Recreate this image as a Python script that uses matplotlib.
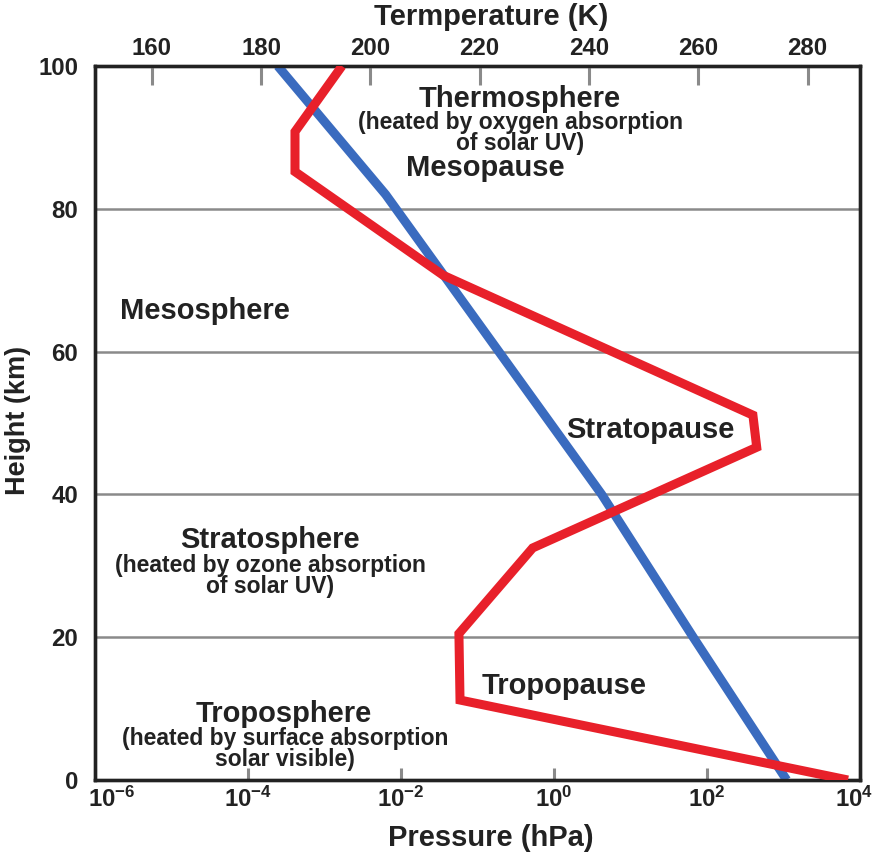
import math
import matplotlib
matplotlib.use("Agg")
import matplotlib.pyplot as plt
from matplotlib.ticker import FixedLocator, FuncFormatter, NullLocator
from matplotlib.transforms import ScaledTranslation

plt.rcParams['font.family'] = ['Liberation Sans', 'DejaVu Sans']
plt.rcParams['font.weight'] = 'bold'
plt.rcParams['mathtext.fontset'] = 'custom'
plt.rcParams['mathtext.rm'] = 'Liberation Sans:bold'
plt.rcParams['mathtext.bf'] = 'Liberation Sans:bold'
plt.rcParams['mathtext.it'] = 'Liberation Sans:bold'
plt.rcParams['mathtext.default'] = 'bf'

# ---- data ----
pressure_heights = [0, 20, 40, 60, 82, 100]           # km
pressure_hpa = [1100, 66, 4.2, 0.19, 6.3e-3, 2.45e-4]  # hPa

temp_heights = [0, 11.2, 20.5, 32.5, 46.6, 51.1, 70.7, 85.2, 90.8, 100]  # km
temp_k = [287.4, 216.4, 216.2, 229.7, 270.7, 270.0, 213.3, 186.2, 186.2, 194.8]

height_ticks = [0, 20, 40, 60, 80, 100]
pressure_ticks = [1e-6, 1e-4, 1e-2, 1e0, 1e2, 1e4]
temp_ticks = [160, 180, 200, 220, 240, 260, 280]

W, H = 875, 855
fig = plt.figure(figsize=(W / 100, H / 100), dpi=100)
ax = fig.add_axes([95 / W, 1 - 780 / H, 765 / W, 714 / H])

RED = '#e8202a'
BLUE = '#3a6bbf'
GRID = '#8a8a8a'
SPINE = '#222222'

ax.set_xscale('log')
ax.set_xlim(1e-6, 1e4)
ax.set_ylim(0, 100)
ax.plot(pressure_hpa, pressure_heights, color=BLUE, lw=6.5,
        solid_joinstyle='miter', solid_capstyle='butt', zorder=3)

ax.yaxis.set_major_locator(FixedLocator(height_ticks))
ax.yaxis.grid(True, color=GRID, lw=1.8)
ax.set_axisbelow(True)
ax.tick_params(axis='y', length=0, pad=12, labelsize=17.3, colors='#222')

ax.xaxis.set_major_locator(FixedLocator(pressure_ticks))
ax.xaxis.set_minor_locator(NullLocator())
def pfmt(v, pos):
    e = int(round(math.log10(v)))
    return r'$\mathbf{10^{%d}}$' % e
ax.xaxis.set_major_formatter(FuncFormatter(pfmt))
ax.tick_params(axis='x', direction='in', length=9, width=2.2, color=GRID,
               pad=5, labelsize=17.3, labelcolor='#222')

for s in ax.spines.values():
    s.set_linewidth(2.4)
    s.set_color(SPINE)

ax2 = ax.twiny()
ax2.set_xlim(149.6, 289.6)
ax2.plot(temp_k, temp_heights, color=RED, lw=6.5,
         solid_joinstyle='miter', solid_capstyle='butt', zorder=4)
ax2.xaxis.set_major_locator(FixedLocator(temp_ticks))
ax2.tick_params(axis='x', direction='in', length=14, width=2.2, color=GRID,
                pad=4, labelsize=17.3, labelcolor='#222')
for s in ax2.spines.values():
    s.set_linewidth(2.4)
    s.set_color(SPINE)

# shift outer pressure labels inward so they stay in the figure
fig.canvas.draw()
labs = ax.get_xticklabels()
labs[0].set_transform(labs[0].get_transform() + ScaledTranslation(12 / 72, 0, fig.dpi_scale_trans))
labs[-1].set_transform(labs[-1].get_transform() + ScaledTranslation(-4 / 72, 0, fig.dpi_scale_trans))

def ftxt(x, y, s, size, **kw):
    fig.text(x / W, 1 - y / H, s, ha='center', va='center',
             fontsize=size, fontweight='bold', color='#222', **kw)

ftxt(491, 17, 'Termperature (K)', 21)
ftxt(491, 838, 'Pressure (hPa)', 21)
ftxt(18, 420, 'Height (km)', 19.5, rotation=90)

ftxt(520, 99, 'Thermosphere', 21)
ftxt(520, 133, '(heated by oxygen absorption\nof solar UV)', 16.5, linespacing=0.92)
ftxt(485, 168, 'Mesopause', 21)
ftxt(205, 311, 'Mesosphere', 21)
ftxt(650, 430, 'Stratopause', 21)
ftxt(270, 540, 'Stratosphere', 21)
ftxt(270, 576, '(heated by ozone absorption\nof solar UV)', 16.5, linespacing=0.92)
ftxt(564, 686, 'Tropopause', 21)
ftxt(284, 714, 'Troposphere', 21)
ftxt(285, 749, '(heated by surface absorption\nsolar visible)', 16.5, linespacing=0.92)

fig.savefig('out.png', dpi=100, facecolor='white')
